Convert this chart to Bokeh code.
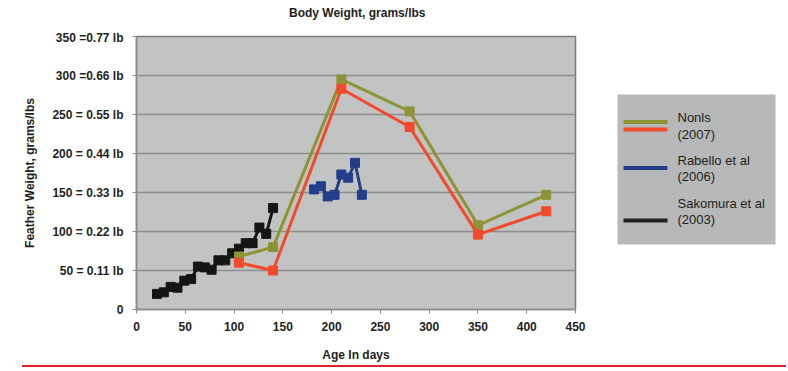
from bokeh.plotting import figure
from bokeh.layouts import row, column
from bokeh.models import Range1d, FixedTicker, Div
from bokeh.core.properties import value
from bokeh.embed import file_html
from bokeh.resources import INLINE

# ---- data ----
sako_age = [21, 28, 35, 42, 49, 56, 63, 70, 77, 84, 91, 98, 105, 112, 119, 126, 133, 140]
sako_wt = [20, 22, 29, 28, 37, 39, 55, 54, 51, 63, 63, 72, 78, 85, 85, 105, 97, 130]
rab_age = [182, 189, 196, 203, 210, 217, 224, 231]
rab_wt = [154, 158, 145, 147, 173, 169, 188, 147]
nonis_age = [105, 140, 210, 280, 350, 420]
nonis_a = [68, 80, 295, 254, 108, 147]
nonis_b = [60, 50, 283, 234, 96, 126]

y_ticks = [0, 50, 100, 150, 200, 250, 300, 350]
y_tick_labels = ["0", "50 = 0.11 lb", "100 = 0.22 lb", "150 = 0.33 lb",
                 "200 = 0.44 lb", "250 = 0.55 lb", "300 =0.66 lb", "350 =0.77 lb"]
x_ticks = [0, 50, 100, 150, 200, 250, 300, 350, 400, 450]

title_text = "Body Weight, grams/lbs"
legend_names = [("Nonls", "(2007)"), ("Rabello et al", "(2006)"), ("Sakomura et al", "(2003)")]

OLIVE = "#8e9436"
RED = "#f24a2c"
BLUE = "#233e8b"
BLACK = "#151515"
TXT = "#231f20"
FONT = "Liberation Sans"

TOP = 30          # height of title strip
FRAME_TOP = 36    # page y of plot frame top
FRAME_BOT = 309   # page y of plot frame bottom
ROW_BOT = 365     # page y where the chart row ends
MH = ROW_BOT - TOP

title_div = Div(text=title_text, width=220, height=TOP - 6, margin=(6, 0, 0, 289),
                styles={"font-family": FONT, "font-size": "12px", "font-weight": "bold",
                        "color": TXT, "white-space": "nowrap", "line-height": "14px"})

p = figure(width=598, height=MH, x_range=Range1d(0, 450), y_range=Range1d(0, 350),
           output_backend="svg", toolbar_location=None, title=None,
           min_border_left=136, min_border_right=23,
           min_border_top=FRAME_TOP - TOP, min_border_bottom=ROW_BOT - FRAME_BOT,
           background_fill_color="#c2c4c4", border_fill_color="white")
p.outline_line_color = "#7c7c7c"
p.outline_line_width = 1.5

p.xgrid.visible = False
p.ygrid.grid_line_color = "#8e8e8e"
p.ygrid.grid_line_width = 1.5

p.yaxis.ticker = FixedTicker(ticks=y_ticks)
p.yaxis.major_label_overrides = {t: l for t, l in zip(y_ticks, y_tick_labels)}
p.xaxis.ticker = FixedTicker(ticks=x_ticks)

for ax in (p.xaxis[0], p.yaxis[0]):
    ax.axis_line_color = "#8c8c8c"
    ax.axis_line_width = 1.5
    ax.major_tick_line_color = "#8c8c8c"
    ax.major_tick_in = 0
    ax.major_tick_out = 4
    ax.minor_tick_line_color = None
    ax.major_label_text_font = FONT
    ax.major_label_text_font_size = "12px"
    ax.major_label_text_font_style = "bold"
    ax.major_label_text_color = TXT
    ax.axis_label_text_font = FONT
    ax.axis_label_text_font_size = "12px"
    ax.axis_label_text_font_style = "bold"
    ax.axis_label_text_color = TXT

p.yaxis.axis_label = "Feather Weight, grams/lbs"
p.yaxis.major_label_standoff = 9
p.yaxis.axis_label_standoff = 12
p.xaxis.axis_label = "Age In days"
p.xaxis.major_label_standoff = 8
p.xaxis.axis_label_standoff = 14

# series
p.line(sako_age, sako_wt, line_color=BLACK, line_width=3)
p.scatter(sako_age, sako_wt, marker="square", size=9, color=BLACK)
p.line(rab_age, rab_wt, line_color=BLUE, line_width=3)
p.scatter(rab_age, rab_wt, marker="square", size=9, color=BLUE)
p.line(nonis_age, nonis_a, line_color=OLIVE, line_width=3)
p.scatter(nonis_age, nonis_a, marker="square", size=9, color=OLIVE)
p.line(nonis_age, nonis_b, line_color=RED, line_width=3)
p.scatter(nonis_age, nonis_b, marker="square", size=9, color=RED)

# legend panel: frame matches the plot frame; coordinates = page pixels
LW = 188
lg = figure(width=LW, height=MH, x_range=Range1d(598, 598 + LW), y_range=Range1d(FRAME_BOT, FRAME_TOP),
            output_backend="svg", toolbar_location=None, title=None,
            x_axis_location=None, y_axis_location=None,
            min_border_left=0, min_border_right=0,
            min_border_top=FRAME_TOP - TOP, min_border_bottom=ROW_BOT - FRAME_BOT,
            background_fill_color="white", border_fill_color="white")
lg.outline_line_color = None
lg.grid.visible = False
lg.quad(left=[617], right=[775], top=[94], bottom=[244], fill_color="#b6b8b9", line_color=None)
lg.segment(x0=[623] * 4, x1=[667] * 4, y0=[121.5, 129, 167.5, 220], y1=[121.5, 129, 167.5, 220],
           line_color=[OLIVE, RED, BLUE, "#231f20"], line_width=4)
lx = [677] * 6
ly = [117, 133.5, 160, 176, 203, 219]
ltxt = [legend_names[0][0], legend_names[0][1], legend_names[1][0], legend_names[1][1],
        legend_names[2][0], legend_names[2][1]]
lg.text(lx, ly, text=ltxt, text_font=value(FONT), text_font_size="13px",
        text_color=TXT, text_baseline="middle", text_align="left")

# red rule at bottom
rule = Div(text="", width=598 + LW - 22, height=2, margin=(0, 0, 0, 22),
           styles={"background-color": "#e2222b"})

layout = column(title_div, row(p, lg, spacing=0), rule, spacing=0)
open("out.html", "w").write(file_html(layout, INLINE))
